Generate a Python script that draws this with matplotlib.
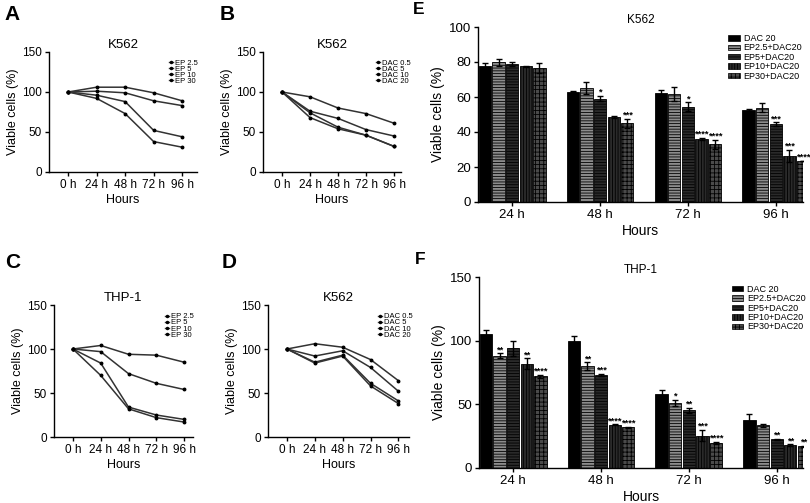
import matplotlib

matplotlib.use("Agg")
import matplotlib.pyplot as plt
import numpy as np
from matplotlib.patches import Patch
from matplotlib.lines import Line2D

plt.rcParams["font.family"] = ["Liberation Sans", "DejaVu Sans"]
plt.rcParams["hatch.linewidth"] = 0.6

W, H = 810, 503

# ---- line chart data (viable cells %, 0h..96h) ----
hours_line = ["0 h", "24 h", "48 h", "72 h", "96 h"]

a_labels = ["EP 2.5", "EP 5", "EP 10", "EP 30"]
a_ep25 = [100, 106, 106, 99, 89]
a_ep5 = [100, 101, 99, 89, 83]
a_ep10 = [100, 96, 88, 52, 44]
a_ep30 = [100, 92, 73, 38, 31]

b_labels = ["DAC 0.5", "DAC 5", "DAC 10", "DAC 20"]
b_dac05 = [100, 94, 80, 73, 61]
b_dac5 = [100, 76, 67, 53, 45]
b_dac10 = [100, 74, 56, 46, 32]
b_dac20 = [100, 68, 54, 46, 32]

c_labels = ["EP 2.5", "EP 5", "EP 10", "EP 30"]
c_ep25 = [100, 104, 94, 93, 85]
c_ep5 = [100, 97, 72, 61, 54]
c_ep10 = [100, 84, 34, 25, 20]
c_ep30 = [100, 70, 32, 22, 17]

d_labels = ["DAC 0.5", "DAC 5", "DAC 10", "DAC 20"]
d_dac05 = [100, 106, 102, 88, 64]
d_dac5 = [100, 92, 98, 79, 52]
d_dac10 = [100, 85, 93, 61, 41]
d_dac20 = [100, 84, 92, 58, 38]

# ---- bar chart data ----
hours_bar = ["24 h", "48 h", "72 h", "96 h"]
bar_labels = ["DAC 20", "EP2.5+DAC20", "EP5+DAC20", "EP10+DAC20", "EP30+DAC20"]

# K562 (panel E), one list per time point, one value per group
e_means = [
    [77.5, 80, 79, 77.5, 76.5],
    [63, 65, 59, 48.5, 45],
    [62.5, 62, 54.5, 36, 33],
    [52.5, 54, 44.5, 26.5, 23.5],
]
e_errs = [
    [2, 2, 1, 0.5, 3],
    [0.3, 3.5, 1.5, 0.5, 2.5],
    [1.5, 4, 2.5, 0.5, 2.5],
    [0.5, 2.5, 1, 3.5, 0.2],
]
e_stars = [
    ["", "", "", "", ""],
    ["", "", "*", "", "***"],
    ["", "", "*", "****", "****"],
    ["", "", "***", "***", "****"],
]

# THP-1 (panel F)
f_means = [
    [105, 88, 94, 82, 72],
    [100, 80, 73, 34, 32],
    [58, 51, 45.5, 25.5, 19.5],
    [38, 33.5, 22.5, 18, 17],
]
f_errs = [
    [3, 2, 6, 4, 1],
    [3.5, 3, 1, 0.3, 0.3],
    [3.5, 2.5, 2, 4.5, 1],
    [4.5, 1, 0.5, 0.5, 0.5],
]
f_stars = [
    ["", "**", "", "**", "****"],
    ["", "**", "***", "****", "****"],
    ["", "*", "**", "***", "****"],
    ["", "", "**", "**", "**"],
]

# bar styles: (facecolor, hatch)
BAR_STYLES = [
    ("#000000", None),
    ("#8c8c8c", "------"),
    ("#2a2a2a", "------"),
    ("#2a2a2a", "||||||"),
    ("#4a4a4a", "++++"),
]


def px_axes(fig, left, top, right, bottom):
    """Add axes from pixel box (origin top-left)"""
    return fig.add_axes([left / W, 1 - bottom / H, (right - left) / W, (bottom - top) / H])


def style_axes(ax, fs):
    ax.spines["top"].set_visible(False)
    ax.spines["right"].set_visible(False)
    ax.spines["left"].set_linewidth(1.0)
    ax.spines["bottom"].set_linewidth(1.0)
    ax.tick_params(direction="out", length=3, width=1, labelsize=fs, pad=2)


def line_panel(fig, box, xlim, title, series, labels, letter, letter_xy, leg_xy):
    ax = px_axes(fig, *box)
    x = np.arange(len(hours_line))
    for s in series:
        ax.plot(x, s, color="#333333", lw=1.1, marker="o", ms=1.8, mfc="black", mec="black")
    ax.set_xlim(*xlim)
    ax.set_ylim(0, 150)
    ax.set_yticks([0, 50, 100, 150])
    ax.set_xticks(x)
    ax.set_xticklabels(hours_line)
    style_axes(ax, 8.5)
    ax.set_ylabel("Viable cells (%)", fontsize=9, labelpad=2)
    ax.set_xlabel("Hours", fontsize=9, labelpad=2)
    ax.set_title(title, fontsize=9.5, pad=3)
    handles = [
        Line2D([], [], color="#333333", lw=1, marker="o", ms=1.5, mfc="black", mec="black")
        for _ in labels
    ]
    ax.legend(
        handles,
        labels,
        loc="upper left",
        bbox_to_anchor=leg_xy,
        frameon=False,
        fontsize=5.5,
        handlelength=0.5,
        handletextpad=0.3,
        labelspacing=-0.15,
        borderpad=0,
        borderaxespad=0,
    )
    fig.text(letter_xy[0] / W, 1 - letter_xy[1] / H, letter, fontsize=15, fontweight="bold",
             ha="left", va="center")
    return ax


def bar_panel(fig, box, xlim, ylim, yticks, title, means, errs, stars, letter, letter_xy, leg_xy):
    ax = px_axes(fig, *box)
    x = np.arange(len(hours_bar))
    slot = 0.155
    width = 0.14
    ytop = ylim[1]
    for j, (fc, hatch) in enumerate(BAR_STYLES):
        vals = [m[j] for m in means]
        er = [e[j] for e in errs]
        pos = x + (j - 2) * slot
        ax.bar(pos, vals, width=width, color=fc, edgecolor="black", linewidth=0.6,
               hatch=hatch, label=bar_labels[j], zorder=2)
        ax.errorbar(pos, vals, yerr=er, fmt="none", ecolor="black", elinewidth=1,
                    capsize=2.5, capthick=1, zorder=3)
        for k in range(len(hours_bar)):
            st = stars[k][j]
            if st:
                ax.text(pos[k], vals[k] + er[k] - ytop * 0.005, st, ha="center", va="bottom",
                        fontsize=6.8, fontweight="bold")
    ax.set_xlim(*xlim)
    ax.set_ylim(*ylim)
    ax.set_yticks(yticks)
    ax.set_xticks(x)
    ax.set_xticklabels(hours_bar)
    style_axes(ax, 9.5)
    ax.set_ylabel("Viable cells (%)", fontsize=10, labelpad=3)
    ax.set_xlabel("Hours", fontsize=10, labelpad=2)
    ax.set_title(title, fontsize=8.5, pad=3)
    handles = [Patch(facecolor=fc, edgecolor="black", hatch=h, linewidth=0.5)
               for fc, h in BAR_STYLES]
    ax.legend(
        handles,
        bar_labels,
        loc="upper left",
        bbox_to_anchor=leg_xy,
        frameon=False,
        fontsize=6.5,
        handlelength=1.3,
        handleheight=0.55,
        handletextpad=0.4,
        labelspacing=0.05,
        borderpad=0,
        borderaxespad=0,
    )
    fig.text(letter_xy[0] / W, 1 - letter_xy[1] / H, letter, fontsize=12.5, fontweight="bold",
             ha="left", va="center")
    return ax


fig = plt.figure(figsize=(W / 100, H / 100), dpi=100)

line_panel(fig, (49, 52, 197, 172), (-0.67, 4.52), "K562",
           [a_ep25, a_ep5, a_ep10, a_ep30], a_labels, "A", (4, 15), (0.81, 0.94))
line_panel(fig, (263, 52, 401, 172), (-0.68, 4.25), "K562",
           [b_dac05, b_dac5, b_dac10, b_dac20], b_labels, "B", (220, 15), (0.82, 0.94))
line_panel(fig, (54, 305, 193, 437), (-0.68, 4.32), "THP-1",
           [c_ep25, c_ep5, c_ep10, c_ep30], c_labels, "C", (5, 262), (0.8, 0.94))
line_panel(fig, (268, 305, 409, 437), (-0.68, 4.38), "K562",
           [d_dac05, d_dac5, d_dac10, d_dac20], d_labels, "D", (222, 262), (0.78, 0.94))

bar_panel(fig, (478, 27, 803, 202), (-0.39, 3.31), (0, 100), [0, 20, 40, 60, 80, 100], "K562",
          e_means, e_errs, e_stars, "E", (413, 10), (0.77, 0.96))
bar_panel(fig, (479, 277, 803, 468), (-0.39, 3.3), (0, 150), [0, 50, 100, 150], "THP-1",
          f_means, f_errs, f_stars, "F", (415, 259), (0.78, 0.96))

plt.savefig("out.png", dpi=100)
